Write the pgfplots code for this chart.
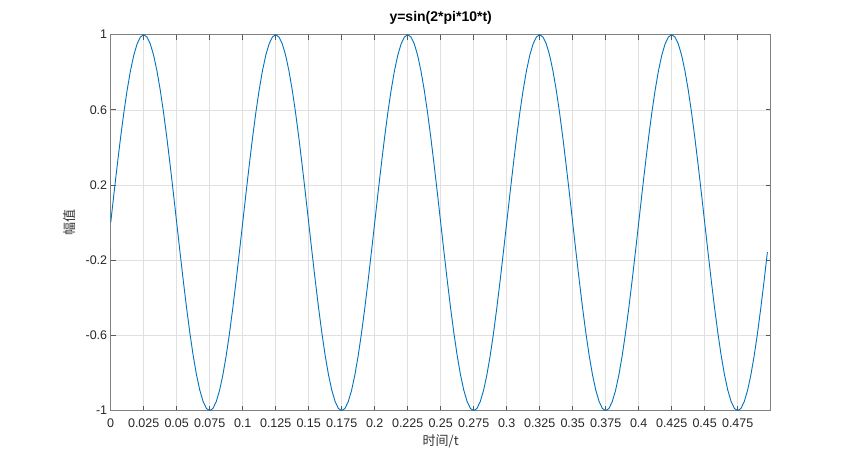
\documentclass[border=0pt]{standalone}
\usepackage{fontspec}
\setmainfont{Liberation Sans}
\newfontfamily\cjk{Noto Sans CJK SC}
\usepackage{pgfplots}
\usepackage{pgfplotstable}
\pgfplotsset{compat=1.18}
\definecolor{mblue}{rgb}{0,0.447,0.741}
\definecolor{axgray}{rgb}{0.5,0.5,0.5}
\definecolor{tickgray}{rgb}{0.35,0.35,0.35}
\definecolor{gridgray}{rgb}{0.88,0.88,0.88}
\pgfplotstableread{
t y
0 0
0.0025 0.1564
0.005 0.3090
0.0075 0.4540
0.01 0.5878
0.0125 0.7071
0.015 0.8090
0.0175 0.8910
0.02 0.9511
0.0225 0.9877
0.025 1
0.0275 0.9877
0.03 0.9511
0.0325 0.8910
0.035 0.8090
0.0375 0.7071
0.04 0.5878
0.0425 0.4540
0.045 0.3090
0.0475 0.1564
0.05 0
0.0525 -0.1564
0.055 -0.3090
0.0575 -0.4540
0.06 -0.5878
0.0625 -0.7071
0.065 -0.8090
0.0675 -0.8910
0.07 -0.9511
0.0725 -0.9877
0.075 -1
0.0775 -0.9877
0.08 -0.9511
0.0825 -0.8910
0.085 -0.8090
0.0875 -0.7071
0.09 -0.5878
0.0925 -0.4540
0.095 -0.3090
0.0975 -0.1564
0.1 0
0.1025 0.1564
0.105 0.3090
0.1075 0.4540
0.11 0.5878
0.1125 0.7071
0.115 0.8090
0.1175 0.8910
0.12 0.9511
0.1225 0.9877
0.125 1
0.1275 0.9877
0.13 0.9511
0.1325 0.8910
0.135 0.8090
0.1375 0.7071
0.14 0.5878
0.1425 0.4540
0.145 0.3090
0.1475 0.1564
0.15 0
0.1525 -0.1564
0.155 -0.3090
0.1575 -0.4540
0.16 -0.5878
0.1625 -0.7071
0.165 -0.8090
0.1675 -0.8910
0.17 -0.9511
0.1725 -0.9877
0.175 -1
0.1775 -0.9877
0.18 -0.9511
0.1825 -0.8910
0.185 -0.8090
0.1875 -0.7071
0.19 -0.5878
0.1925 -0.4540
0.195 -0.3090
0.1975 -0.1564
0.2 0
0.2025 0.1564
0.205 0.3090
0.2075 0.4540
0.21 0.5878
0.2125 0.7071
0.215 0.8090
0.2175 0.8910
0.22 0.9511
0.2225 0.9877
0.225 1
0.2275 0.9877
0.23 0.9511
0.2325 0.8910
0.235 0.8090
0.2375 0.7071
0.24 0.5878
0.2425 0.4540
0.245 0.3090
0.2475 0.1564
0.25 0
0.2525 -0.1564
0.255 -0.3090
0.2575 -0.4540
0.26 -0.5878
0.2625 -0.7071
0.265 -0.8090
0.2675 -0.8910
0.27 -0.9511
0.2725 -0.9877
0.275 -1
0.2775 -0.9877
0.28 -0.9511
0.2825 -0.8910
0.285 -0.8090
0.2875 -0.7071
0.29 -0.5878
0.2925 -0.4540
0.295 -0.3090
0.2975 -0.1564
0.3 0
0.3025 0.1564
0.305 0.3090
0.3075 0.4540
0.31 0.5878
0.3125 0.7071
0.315 0.8090
0.3175 0.8910
0.32 0.9511
0.3225 0.9877
0.325 1
0.3275 0.9877
0.33 0.9511
0.3325 0.8910
0.335 0.8090
0.3375 0.7071
0.34 0.5878
0.3425 0.4540
0.345 0.3090
0.3475 0.1564
0.35 0
0.3525 -0.1564
0.355 -0.3090
0.3575 -0.4540
0.36 -0.5878
0.3625 -0.7071
0.365 -0.8090
0.3675 -0.8910
0.37 -0.9511
0.3725 -0.9877
0.375 -1
0.3775 -0.9877
0.38 -0.9511
0.3825 -0.8910
0.385 -0.8090
0.3875 -0.7071
0.39 -0.5878
0.3925 -0.4540
0.395 -0.3090
0.3975 -0.1564
0.4 0
0.4025 0.1564
0.405 0.3090
0.4075 0.4540
0.41 0.5878
0.4125 0.7071
0.415 0.8090
0.4175 0.8910
0.42 0.9511
0.4225 0.9877
0.425 1
0.4275 0.9877
0.43 0.9511
0.4325 0.8910
0.435 0.8090
0.4375 0.7071
0.44 0.5878
0.4425 0.4540
0.445 0.3090
0.4475 0.1564
0.45 0
0.4525 -0.1564
0.455 -0.3090
0.4575 -0.4540
0.46 -0.5878
0.4625 -0.7071
0.465 -0.8090
0.4675 -0.8910
0.47 -0.9511
0.4725 -0.9877
0.475 -1
0.4775 -0.9877
0.48 -0.9511
0.4825 -0.8910
0.485 -0.8090
0.4875 -0.7071
0.49 -0.5878
0.4925 -0.4540
0.495 -0.3090
0.4975 -0.1564
}\sinedata
\begin{document}
\begin{tikzpicture}
\begin{axis}[
  at={(0pt,0pt)}, anchor=south west,
  scale only axis, width=660pt, height=376pt,
  xmin=0, xmax=0.5, ymin=-1, ymax=1,
  xtick={0,0.025,0.05,0.075,0.1,0.125,0.15,0.175,0.2,0.225,0.25,0.275,0.3,0.325,0.35,0.375,0.4,0.425,0.45,0.475},
  xticklabels={0,0.025,0.05,0.075,0.1,0.125,0.15,0.175,0.2,0.225,0.25,0.275,0.3,0.325,0.35,0.375,0.4,0.425,0.45,0.475},
  ytick={-1,-0.6,-0.2,0.2,0.6,1},
  yticklabels={-1,-0.6,-0.2,0.2,0.6,1},
  tick align=inside, major tick length=5pt,
  xmajorgrids, ymajorgrids,
  grid style={gridgray, line width=0.7pt},
  axis line style={axgray, line width=0.9pt},
  tick style={tickgray, line width=0.8pt},
  ticklabel style={font=\fontsize{12.5}{14}\selectfont, text=black!85},
  xticklabel style={yshift=-4.4pt},
  title={y=sin(2*pi*10*t)},
  title style={font=\bfseries\fontsize{14}{16}\selectfont, at={(axis description cs:0.5,1.029)}, anchor=center},
  xlabel={\cjk 时间/t},
  ylabel={\cjk 幅值},
  xlabel style={font=\fontsize{13}{15}\selectfont, text=black!80, at={(axis description cs:0.5,-0.0816)}, anchor=center},
  ylabel style={font=\fontsize{13}{15}\selectfont, text=black!80, at={(axis description cs:-0.0617,0.5)}, anchor=center},
]
\addplot[mblue, line width=0.9pt] table[x=t, y=y] {\sinedata};
\end{axis}
\pgfresetboundingbox
\path (-110.7pt,-51.3pt) rectangle (741.3pt,410.7pt);
\end{tikzpicture}
\end{document}
